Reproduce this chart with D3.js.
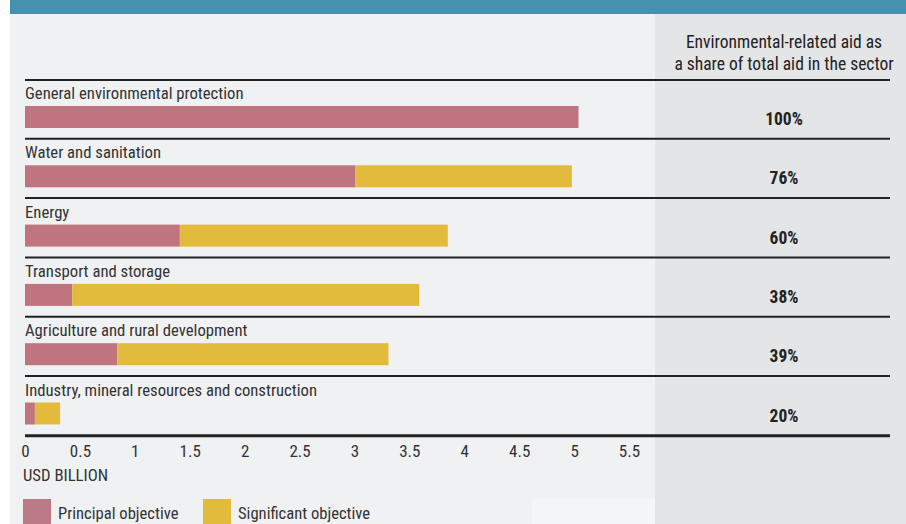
<!DOCTYPE html>
<html><head><meta charset="utf-8">
<script src="https://cdn.jsdelivr.net/npm/d3@7"></script>
<style>
html,body{margin:0;padding:0;background:#fff;}
svg text{font-family:"Liberation Sans Narrow","Roboto Condensed","Arial Narrow","Liberation Sans",sans-serif;}
</style>
</head><body>
<svg id="c" width="906" height="524"></svg>
<script>
const categories = ["General environmental protection","Water and sanitation","Energy","Transport and storage","Agriculture and rural development","Industry, mineral resources and construction"];
const principal = [5.04, 3.01, 1.41, 0.43, 0.84, 0.09];
const significant = [0, 1.97, 2.44, 3.16, 2.47, 0.23];
const shares = ["100%","76%","60%","38%","39%","20%"];
const tickValues = [0,0.5,1,1.5,2,2.5,3,3.5,4,4.5,5,5.5];
const seriesNames = ["Principal objective","Significant objective"];
const colors = ["#c07480","#e3bb3c"];

const svg = d3.select("#c");
// backgrounds
svg.append("rect").attr("x",10).attr("y",0).attr("width",896).attr("height",524).attr("fill","#f0f1f3");
svg.append("rect").attr("x",655).attr("y",14).attr("width",251).attr("height",510).attr("fill","#e4e5e7");
svg.append("rect").attr("x",532).attr("y",499).attr("width",123).attr("height",25).attr("fill","#f3f5f7");
svg.append("rect").attr("x",10).attr("y",0).attr("width",896).attr("height",14).attr("fill","#4690b0");

const x = d3.scaleLinear().domain([0,5.5]).range([25,629]);
const rowTop = 80, rowH = 59.3;
const y = d3.scaleBand().domain(categories).range([rowTop, rowTop + rowH*6]);

// header
const hdr = svg.append("text").attr("text-anchor","middle").attr("font-size",17.5).attr("fill","#222");
hdr.append("tspan").attr("x",784).attr("y",48).text("Environmental-related aid as");
hdr.append("tspan").attr("x",784).attr("y",70).text("a share of total aid in the sector");
svg.append("line").attr("x1",25).attr("x2",890).attr("y1",80).attr("y2",80).attr("stroke","#222").attr("stroke-width",2);

const rows = svg.selectAll("g.row").data(categories).join("g").attr("class","row")
  .attr("transform",d=>`translate(0,${y(d)})`);
rows.append("text").attr("x",25).attr("y",19).attr("font-size",16.7).attr("fill","#333").text(d=>d);
rows.append("rect").attr("x",x(0)).attr("y",26).attr("height",22)
  .attr("width",(d,i)=>x(principal[i])-x(0)).attr("fill",colors[0]);
rows.append("rect").attr("x",(d,i)=>x(principal[i])).attr("y",26).attr("height",22)
  .attr("width",(d,i)=>x(principal[i]+significant[i])-x(principal[i])).attr("fill",colors[1]);
rows.append("text").attr("x",784).attr("y",45).attr("text-anchor","middle").attr("font-size",17.5)
  .attr("font-weight","bold").attr("fill","#222").text((d,i)=>shares[i]);
rows.filter((d,i)=>i<5).append("line").attr("x1",25).attr("x2",890).attr("y1",y.bandwidth()-0.5).attr("y2",y.bandwidth()-0.5)
  .attr("stroke","#222").attr("stroke-width",2);

// axis
const axisY = rowTop + rowH*6;
svg.append("line").attr("x1",25).attr("x2",890).attr("y1",axisY).attr("y2",axisY).attr("stroke","#222").attr("stroke-width",3);
const ax = svg.append("g").attr("transform",`translate(0,${axisY})`)
  .call(d3.axisBottom(x).tickValues(tickValues).tickSize(0).tickPadding(9).tickFormat(d3.format("~g")));
ax.select(".domain").remove();
ax.selectAll("text").attr("font-size",17).attr("fill","#333")
  .style("font-family",'"Liberation Sans Narrow","Roboto Condensed","Arial Narrow",sans-serif');
svg.append("text").attr("x",23).attr("y",481).attr("font-size",16.7).attr("fill","#333").text("USD BILLION");

// legend
const lx = [23,203];
const lg = svg.selectAll("g.leg").data(seriesNames).join("g").attr("class","leg")
  .attr("transform",(d,i)=>`translate(${lx[i]},499)`);
lg.append("rect").attr("width",28).attr("height",30).attr("fill",(d,i)=>i===0?"#bb7a86":colors[1]);
lg.append("text").attr("x",35).attr("y",19.5).attr("font-size",16.6).attr("fill","#333").text(d=>d);
</script>
</body></html>
